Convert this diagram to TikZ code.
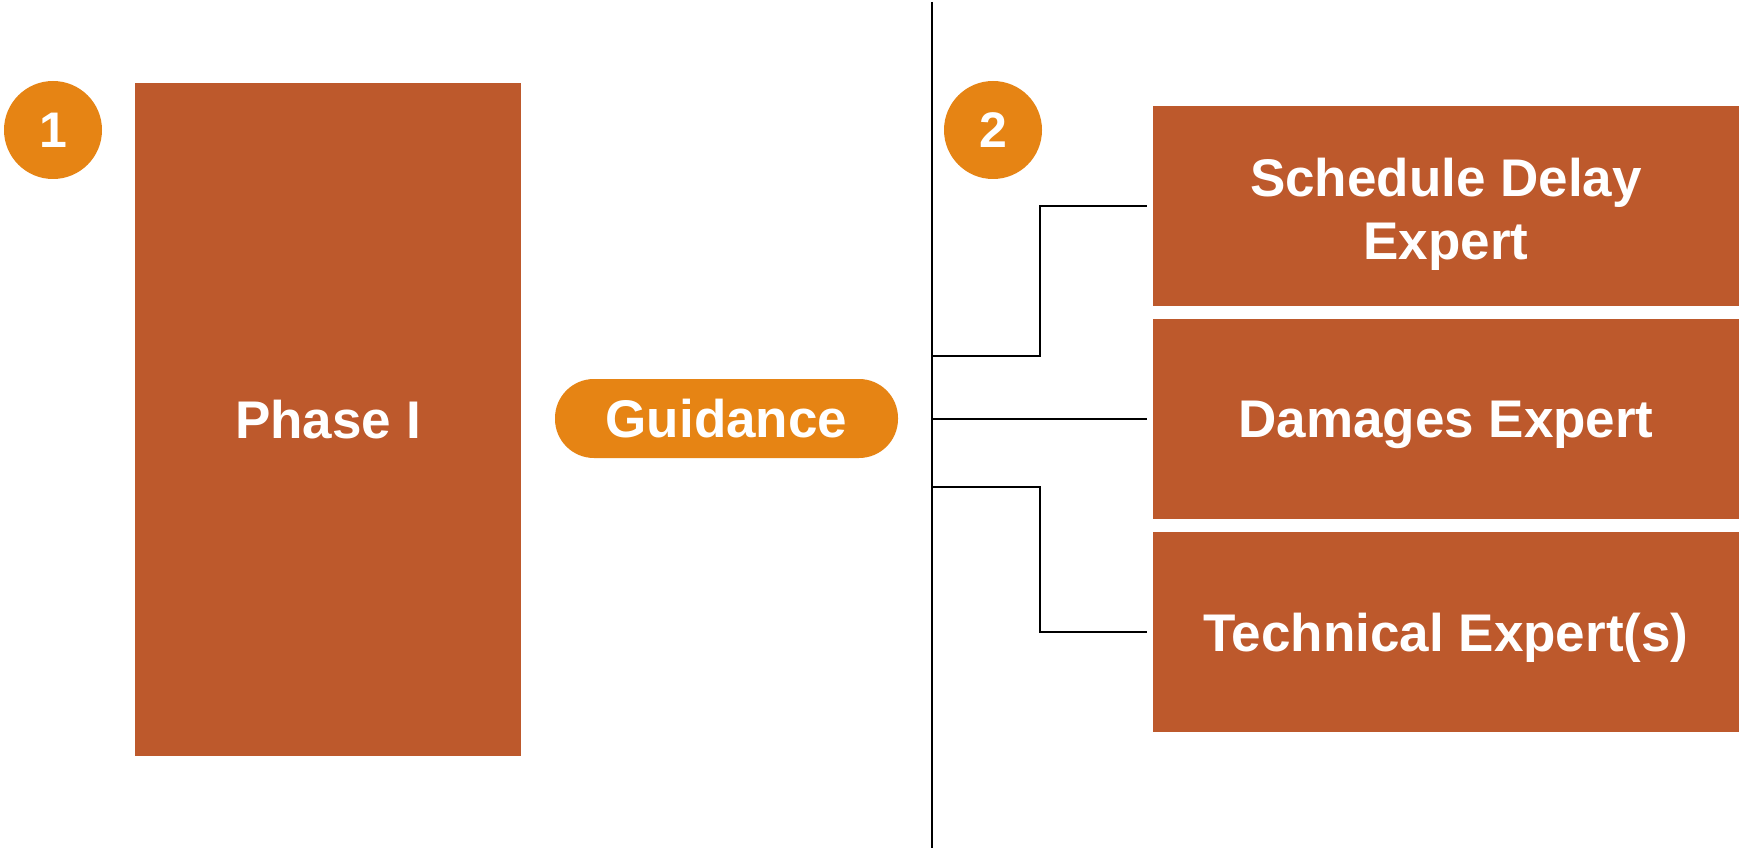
\documentclass[tikz,border=0pt]{standalone}
\usepackage{fontspec}
\setmainfont{Liberation Sans}
\definecolor{boxbrown}{RGB}{189,89,44}
\definecolor{badgeorange}{RGB}{230,132,20}
\begin{document}
\begin{tikzpicture}[x=1pt,y=-1pt,
  bigbox/.style={fill=boxbrown, draw=none, inner sep=0pt, text=white, text depth=0pt,
     font=\fontsize{53}{63}\selectfont\bfseries, align=center},
  boxtext/.style={inner sep=0pt, text=white, text depth=0pt,
     font=\fontsize{53}{63}\selectfont\bfseries, align=center},
  badge/.style={circle, fill=badgeorange, draw=none, minimum size=98pt, inner sep=0pt,
     text=white, font=\fontsize{50}{60}\selectfont\bfseries},
  pill/.style={rectangle, rounded corners=39pt, fill=badgeorange, draw=none,
     minimum width=343pt, minimum height=79pt, inner sep=0pt, text=white,
     font=\fontsize{53}{60}\selectfont\bfseries},
  link/.style={draw=black, line width=1.6pt}]
\useasboundingbox (0,0) rectangle (1739,853);
\fill[white] (0,0) rectangle (1739,853);
% left side
\node[badge] (b1) at (53,130) {1};
\node[bigbox, minimum width=386pt, minimum height=673pt] (phase) at (328,419.5) {Phase I};
\node[pill] (guide) at (726.5,418.5) {Guidance};
% divider
\coordinate (vtop) at (932,2);
\coordinate (vbot) at (932,848);
\draw[link] (vtop) -- (vbot);
% right side
\node[badge] (b2) at (993,130) {2};
\node[bigbox, minimum width=586pt, minimum height=200pt] (sched) at (1446,206) {};
\node[boxtext] (schedtxt) at (1446,209) {Schedule Delay\\Expert};
\node[bigbox, minimum width=586pt, minimum height=200pt] (dmg) at (1446,419) {Damages Expert};
\node[bigbox, minimum width=586pt, minimum height=200pt] (tech) at (1446,632) {Technical Expert(s)};
% connectors
\coordinate (j1) at (932,356);
\coordinate (j3) at (932,487);
\draw[link] (j1) -- (1040,356) |- ([xshift=-6pt]sched.west);
\draw[link] (vtop |- dmg.west) -- ([xshift=-6pt]dmg.west);
\draw[link] (j3) -- (1040,487) |- ([xshift=-6pt]tech.west);
\end{tikzpicture}
\end{document}
